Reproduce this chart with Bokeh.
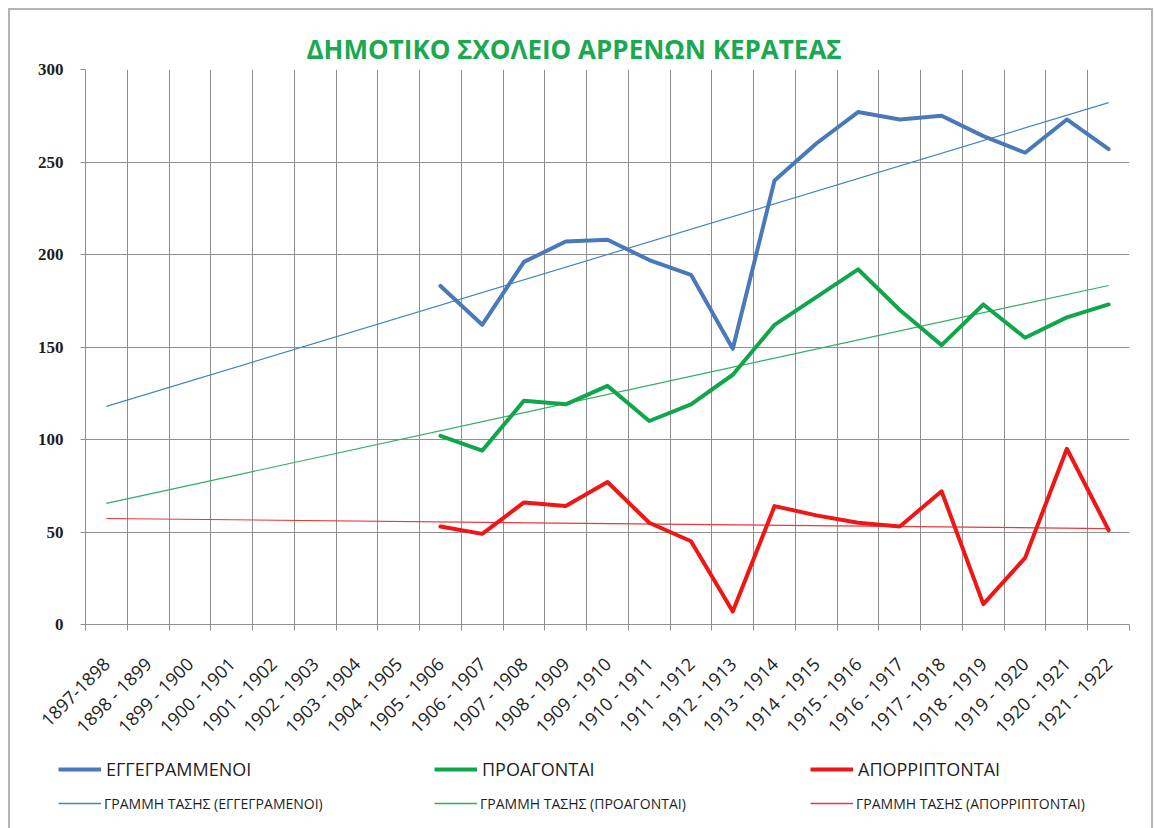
import math
import numpy as np
from bokeh.plotting import figure
from bokeh.models import FixedTicker, Legend, LegendItem, Range1d
from bokeh.embed import file_html
from bokeh.resources import INLINE

# ---------------- data ----------------
seasons = ["1897-1898", "1898 - 1899", "1899 - 1900", "1900 - 1901", "1901 - 1902",
           "1902 - 1903", "1903 - 1904", "1904 - 1905", "1905 - 1906", "1906 - 1907",
           "1907 - 1908", "1908 - 1909", "1909 - 1910", "1910 - 1911", "1911 - 1912",
           "1912 - 1913", "1913 - 1914", "1914 - 1915", "1915 - 1916", "1916 - 1917",
           "1917 - 1918", "1918 - 1919", "1919 - 1920", "1920 - 1921", "1921 - 1922"]
first_data_season = "1905 - 1906"
enrolled = [183, 162, 196, 207, 208, 197, 189, 149, 240, 260, 277, 273, 275, 264, 255, 273, 257]
promoted = [102, 94, 121, 119, 129, 110, 119, 135, 162, 177, 192, 170, 151, 173, 155, 166, 173]
failed = [53, 49, 66, 64, 77, 55, 45, 7, 64, 59, 55, 53, 72, 11, 36, 95, 51]
y_ticks = [0, 50, 100, 150, 200, 250, 300]

title_text = "ΔΗΜΟΤΙΚΟ ΣΧΟΛΕΙΟ ΑΡΡΕΝΩΝ  ΚΕΡΑΤΕΑΣ"
names = ["ΕΓΓΕΓΡΑΜΜΕΝΟΙ", "ΠΡΟΑΓΟΝΤΑΙ", "ΑΠΟΡΡΙΠΤΟΝΤΑΙ"]
trend_names = ["ΓΡΑΜΜΗ ΤΑΣΗΣ (ΕΓΓΕΓΡΑΜΕΝΟΙ)", "ΓΡΑΜΜΗ ΤΑΣΗΣ (ΠΡΟΑΓΟΝΤΑΙ)",
               "ΓΡΑΜΜΗ ΤΑΣΗΣ (ΑΠΟΡΡΙΠΤΟΝΤΑΙ)"]
colors = ["#4a79bb", "#12a64c", "#f01616"]
trend_colors = ["#3f86c8", "#2fae62", "#e8383a"]

# ---------------- positions ----------------
n = len(seasons)
start = seasons.index(first_data_season)
centers = [i + 0.5 for i in range(n)]
data_x = centers[start:]

grid_col = "#8f8f8f"
text_col = "#1e1e1e"
frame_col = "#b4b4b4"

W, H_MAIN, H_LEG = 1154, 756, 72

p = figure(width=W, height=H_MAIN, x_range=Range1d(0, n), y_range=Range1d(0, 300),
           output_backend="svg", toolbar_location=None,
           min_border_left=85, min_border_right=25, min_border_top=69,
           min_border_bottom=H_MAIN - 624)
p.border_fill_color = None
p.styles = {"box-shadow": ("inset 8px 8px 0 0 white, inset -1px 0 0 0 white, "
                           f"inset 10px 10px 0 0 {frame_col}, inset -3px 0 0 0 {frame_col}")}

p.title.text = title_text
p.title.align = "left"
p.title.offset = 221
p.title.text_font = "Open Sans"
p.title.text_font_size = "26px"
p.title.text_font_style = "bold"
p.title.text_color = "#1aa851"
p.title.standoff = 6

p.outline_line_color = None
p.background_fill_color = "white"

# x axis: labels at category centers, ticks/grid at boundaries
xa = p.xaxis[0]
xa.ticker = FixedTicker(ticks=centers, minor_ticks=list(range(n + 1)))
xa.major_label_overrides = {c: s for c, s in zip(centers, seasons)}
xa.major_label_orientation = math.pi / 4
xa.major_label_text_font = "Open Sans"
xa.major_label_text_font_size = "18px"
xa.major_label_text_color = text_col
xa.major_tick_line_color = None
xa.major_tick_out = 6
xa.major_tick_in = 0
xa.minor_tick_line_color = grid_col
xa.minor_tick_out = 6
xa.minor_tick_in = 0
xa.axis_line_color = grid_col
xa.major_label_standoff = 30

ya = p.yaxis[0]
ya.ticker = FixedTicker(ticks=y_ticks)
ya.major_label_text_font = "Liberation Serif"
ya.major_label_text_font_style = "bold"
ya.major_label_text_font_size = "17px"
ya.major_label_text_color = text_col
ya.major_tick_line_color = grid_col
ya.major_tick_out = 5
ya.major_tick_in = 0
ya.minor_tick_line_color = None
ya.axis_line_color = grid_col
ya.major_label_standoff = 17

p.xgrid.ticker = FixedTicker(ticks=list(range(n + 1)))
p.ygrid.ticker = FixedTicker(ticks=y_ticks)
for g in (p.xgrid[0], p.ygrid[0]):
    g.grid_line_color = grid_col
    g.grid_line_width = 1

# trend lines (linear least squares over the data points)
series = [enrolled, promoted, failed]
for vals, tc in zip(series, trend_colors):
    k, b = np.polyfit(data_x, vals, 1)
    tx = [centers[0], centers[-1]]
    ty = [k * x + b for x in tx]
    p.line(tx, ty, line_color=tc, line_width=1.2)

for vals, c in zip(series, colors):
    p.line(data_x, vals, line_color=c, line_width=4, line_join="round", line_cap="round")

# ---------------- legend strip (separate figure below) ----------------
q = figure(width=W, height=H_LEG, x_range=Range1d(0, W), y_range=Range1d(0, H_LEG),
           output_backend="svg", toolbar_location=None,
           x_axis_type=None, y_axis_type=None,
           min_border_left=0, min_border_right=0, min_border_top=0, min_border_bottom=0)
q.grid.visible = False
q.outline_line_color = None
q.border_fill_color = None
q.background_fill_color = None
q.styles = {"box-shadow": ("inset 8px 0 0 0 white, inset -1px 0 0 0 white, "
                           f"inset 10px 0 0 0 {frame_col}, inset -3px 0 0 0 {frame_col}")}

nan = float("nan")
main_proxies = [q.line([nan], [nan], line_color=c, line_width=4) for c in colors]
trend_proxies = [q.line([nan], [nan], line_color=c, line_width=1.4) for c in trend_colors]


def make_legend(renderers, labels, size, h, standoff, y):
    return Legend(items=[LegendItem(label=l, renderers=[r]) for l, r in zip(labels, renderers)],
                  orientation="horizontal", location=(58, y),
                  glyph_width=43, glyph_height=h, label_standoff=standoff,
                  label_width=int(376.5 - 43 - standoff), label_height=h,
                  spacing=0, padding=0, margin=0,
                  border_line_color=None, background_fill_alpha=0,
                  label_text_font="Open Sans", label_text_font_size=size,
                  label_text_color=text_col)


q.add_layout(make_legend(main_proxies, names, "18px", 26, 5, 46))
q.add_layout(make_legend(trend_proxies, trend_names, "14px", 20, 3, 15))

open("out.html", "w").write(file_html([p, q], INLINE))
